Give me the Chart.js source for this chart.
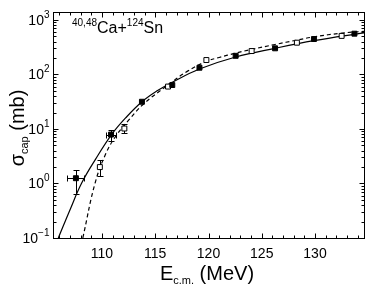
<!DOCTYPE html>
<html>
<head>
<meta charset="utf-8">
<script src="https://cdn.jsdelivr.net/npm/chart.js@4.4.1/dist/chart.umd.min.js"></script>
<style>
    html, body { margin: 0; padding: 0; background: #fff; }
    #wrap { width: 376px; height: 288px; position: relative; }
</style>
</head>
<body>
<div id="wrap"><canvas id="capChart"></canvas></div>
<script>
// measured capture cross sections (filled / open squares)
const filledE = [107.55, 110.85, 113.75, 116.6, 119.15, 122.55, 126.25, 129.9, 133.7];
const filledSigma = [1.25, 7.9, 31.6, 64, 133, 220, 302, 447, 560];
const filledErrE = [0.8, 0.5, null, null, null, null, null, null, null];
const filledSigmaLo = [0.63, 6.1, null, null, null, null, null, null, null];
const filledSigmaHi = [1.8, 9.6, null, null, null, null, null, null, null];

const openE = [109.8, 112.1, 116.2, 119.8, 124.05, 128.3, 132.5];
const openSigma = [2.0, 10.2, 60, 184, 269, 383, 510];
const openErrE = [null, null, null, null, null, null, null];
const openSigmaLo = [1.35, 8.4, null, null, null, null, null];
const openSigmaHi = [2.65, 12.6, null, null, null, null, null];

// calculated curves
const solidE = [105.9, 107.0, 108.07, 109.4, 110.9, 112.3, 113.75, 115.1, 116.6, 119.15, 122.55, 126.25, 129.9, 134.6];
const solidSigma = [0.1, 0.33, 1.0, 2.8, 7.9, 16.6, 31.6, 49, 72, 126, 209, 302, 417, 582];
const dashedE = [108.2, 109.34, 110.35, 111.3, 112.5, 113.9, 116.2, 118.0, 119.8, 121.0, 122.55, 124.05, 126.25, 128.3, 129.9, 132.55, 134.6];
const dashedSigma = [0.1, 1.0, 3.5, 7.4, 14.5, 28.8, 64, 114, 174, 205, 247, 288, 355, 427, 490, 575, 617];

// axes
const xMin = 105.4, xMax = 134.6;
const yMin = 0.1, yMax = 1400;
const xTickLabels = [110, 115, 120, 125, 130];
const yTickExps = [-1, 0, 1, 2, 3];

const FONT = '"Liberation Sans", Arial, sans-serif';

function toXY(xs, ys) {
    return xs.map((v, i) => ({ x: v, y: ys[i] }));
}

const overlay = {
    id: 'overlay',
    beforeDatasetsDraw(chart) {
        const { ctx, scales: { x, y } } = chart;
        ctx.save();
        ctx.strokeStyle = '#000';
        ctx.lineWidth = 1;
        const cap = 3;
        const errBars = (E, S, dE, lo, hi) => {
            for (let i = 0; i < E.length; i++) {
                const px = Math.round(x.getPixelForValue(E[i])) + 0.5;
                const py = Math.round(y.getPixelForValue(S[i])) + 0.5;
                ctx.beginPath();
                if (dE[i] != null) {
                    const x1 = Math.round(x.getPixelForValue(E[i] - dE[i])) + 0.5;
                    const x2 = Math.round(x.getPixelForValue(E[i] + dE[i])) + 0.5;
                    ctx.moveTo(x1, py); ctx.lineTo(x2, py);
                    ctx.moveTo(x1, py - cap); ctx.lineTo(x1, py + cap);
                    ctx.moveTo(x2, py - cap); ctx.lineTo(x2, py + cap);
                }
                if (lo[i] != null) {
                    const y1 = Math.round(y.getPixelForValue(lo[i])) + 0.5;
                    const y2 = Math.round(y.getPixelForValue(hi[i])) + 0.5;
                    ctx.moveTo(px, y1); ctx.lineTo(px, y2);
                    ctx.moveTo(px - cap, y1); ctx.lineTo(px + cap, y1);
                    ctx.moveTo(px - cap, y2); ctx.lineTo(px + cap, y2);
                }
                ctx.stroke();
            }
        };
        errBars(filledE, filledSigma, filledErrE, filledSigmaLo, filledSigmaHi);
        errBars(openE, openSigma, openErrE, openSigmaLo, openSigmaHi);
        ctx.restore();
    },
    afterDraw(chart) {
        const { ctx, chartArea: a, scales: { x, y } } = chart;
        ctx.save();
        ctx.strokeStyle = '#000';
        ctx.fillStyle = '#000';
        ctx.lineWidth = 1;

        // frame
        const L = Math.round(a.left) + 0.5, R = Math.round(a.right) + 0.5;
        const T = Math.round(a.top) + 0.5, B = Math.round(a.bottom) + 0.5;
        ctx.strokeRect(L, T, R - L, B - T);

        // ticks, pointing inwards on all four sides
        ctx.beginPath();
        for (let v = Math.ceil(xMin); v <= xMax; v++) {
            const px = Math.round(x.getPixelForValue(v)) + 0.5;
            const len = v % 5 === 0 ? 5 : 3;
            ctx.moveTo(px, B); ctx.lineTo(px, B - len);
            ctx.moveTo(px, T); ctx.lineTo(px, T + len);
        }
        for (let e = -1; e <= 3; e++) {
            for (let k = 1; k <= 9; k++) {
                const v = k * Math.pow(10, e);
                if (v < yMin || v > yMax) continue;
                const py = Math.round(y.getPixelForValue(v)) + 0.5;
                const len = k === 1 ? 5 : 3;
                ctx.moveTo(L, py); ctx.lineTo(L + len, py);
                ctx.moveTo(R, py); ctx.lineTo(R - len, py);
            }
        }
        ctx.stroke();

        // x tick labels
        ctx.font = '14px ' + FONT;
        ctx.textAlign = 'center';
        ctx.textBaseline = 'alphabetic';
        xTickLabels.forEach(v => {
            ctx.fillText(String(v), x.getPixelForValue(v), 258);
        });

        // y tick labels 10^n
        yTickExps.forEach(n => {
            const py = y.getPixelForValue(Math.pow(10, n));
            const ex = String(n).replace('-', '\u2212');
            ctx.font = '10px ' + FONT;
            const expW = ctx.measureText(ex).width;
            ctx.font = '14px ' + FONT;
            const baseW = ctx.measureText('10').width;
            const right = L - 4;
            ctx.textAlign = 'left';
            ctx.fillText('10', right - expW - baseW, py + 5);
            ctx.font = '10px ' + FONT;
            ctx.fillText(ex, right - expW, py - 2);
        });

        // x axis title: E_c.m. (MeV)
        const xt = [['E', '20px', 0], ['c.m.', '11px', 4], [' (MeV)', '20px', 0]];
        let tw = 0;
        xt.forEach(p => { ctx.font = p[1] + ' ' + FONT; tw += ctx.measureText(p[0]).width; });
        let cx = 207 - tw / 2;
        ctx.textAlign = 'left';
        xt.forEach(p => {
            ctx.font = p[1] + ' ' + FONT;
            ctx.fillText(p[0], cx, 280 + p[2]);
            cx += ctx.measureText(p[0]).width;
        });

        // y axis title: sigma_cap (mb)
        ctx.save();
        ctx.translate(24, 128);
        ctx.rotate(-Math.PI / 2);
        const yt = [['\u03c3', '20px', 0], ['cap', '11px', 4], [' (mb)', '20px', 0]];
        tw = 0;
        yt.forEach(p => { ctx.font = p[1] + ' ' + FONT; tw += ctx.measureText(p[0]).width; });
        cx = -tw / 2;
        yt.forEach(p => {
            ctx.font = p[1] + ' ' + FONT;
            ctx.fillText(p[0], cx, p[2]);
            cx += ctx.measureText(p[0]).width;
        });
        ctx.restore();

        // reaction label
        const rl = [['40,48', '10px', -7], ['Ca+', '16px', 0], ['124', '10px', -7], ['Sn', '16px', 0]];
        cx = 72;
        rl.forEach(p => {
            ctx.font = p[1] + ' ' + FONT;
            ctx.fillText(p[0], cx, 33 + p[2]);
            cx += ctx.measureText(p[0]).width;
        });

        ctx.restore();
    }
};

new Chart(document.getElementById('capChart'), {
    type: 'scatter',
    data: {
        datasets: [
            {
                label: 'filled',
                data: toXY(filledE, filledSigma),
                pointStyle: 'rect',
                pointRadius: 3.5,
                backgroundColor: '#000',
                borderColor: '#000',
                borderWidth: 1
            },
            {
                label: 'open',
                data: toXY(openE, openSigma),
                pointStyle: 'rect',
                pointRadius: 3.5,
                backgroundColor: '#fff',
                borderColor: '#000',
                borderWidth: 1
            },
            {
                label: 'solid curve',
                type: 'line',
                data: toXY(solidE, solidSigma),
                showLine: true,
                pointRadius: 0,
                borderColor: '#000',
                borderWidth: 1.2,
                tension: 0.4,
                fill: false
            },
            {
                label: 'dashed curve',
                type: 'line',
                data: toXY(dashedE, dashedSigma),
                showLine: true,
                pointRadius: 0,
                borderColor: '#000',
                borderWidth: 1.2,
                borderDash: [4, 3],
                tension: 0.4,
                fill: false
            }
        ]
    },
    options: {
        responsive: true,
        maintainAspectRatio: false,
        animation: false,
        layout: { padding: { top: 12, right: 12, left: 0, bottom: 0 } },
        plugins: { legend: { display: false }, tooltip: { enabled: false } },
        scales: {
            x: {
                type: 'linear',
                min: xMin,
                max: xMax,
                grid: { display: false },
                border: { display: false },
                ticks: { display: false },
                afterFit: s => { s.height = 50; }
            },
            y: {
                type: 'logarithmic',
                min: yMin,
                max: yMax,
                grid: { display: false },
                border: { display: false },
                ticks: { display: false },
                afterFit: s => { s.width = 53; }
            }
        }
    },
    plugins: [overlay]
});
</script>
</body>
</html>
